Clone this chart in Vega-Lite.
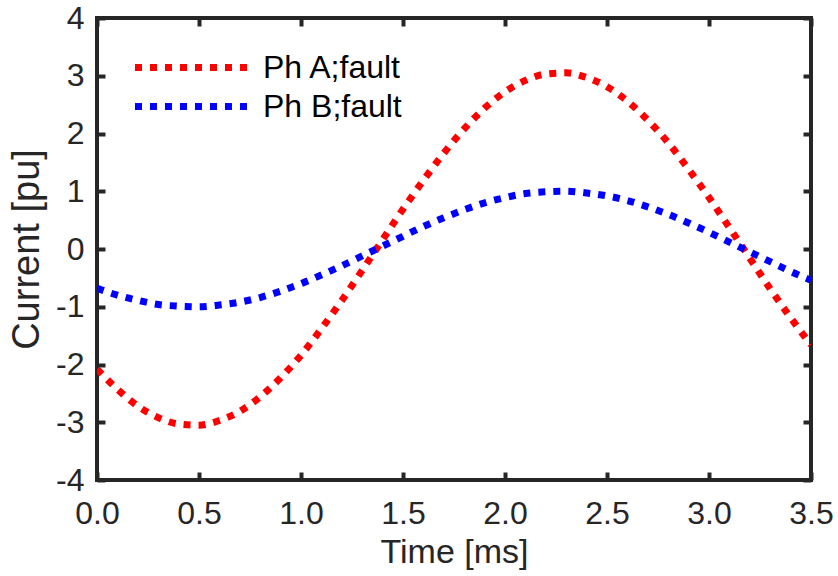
{
  "$schema": "https://vega.github.io/schema/vega-lite/v6.json",
  "width": 714,
  "height": 462,
  "autosize": {"type": "none"},
  "padding": {"left": 97, "top": 18, "right": 27, "bottom": 96},
  "background": "white",
  "config": {
    "font": "Liberation Sans",
    "view": {"stroke": "#262626", "strokeWidth": 4},
    "axis": {"grid": false, "domain": false, "tickColor": "#262626", "tickWidth": 4, "tickSize": -8, "labelColor": "#262626", "titleColor": "#262626", "labelFontSize": 32, "titleFontSize": 34, "titleFontWeight": "normal", "labelFont": "Liberation Sans", "titleFont": "Liberation Sans"}
  },
  "data": {"values": [
    {"t":0.0,"i":-2.08,"s":"Ph A;fault"},{"t":0.1,"i":-2.43,"s":"Ph A;fault"},{"t":0.2,"i":-2.72,"s":"Ph A;fault"},{"t":0.3,"i":-2.92,"s":"Ph A;fault"},{"t":0.4,"i":-3.03,"s":"Ph A;fault"},{"t":0.5,"i":-3.05,"s":"Ph A;fault"},{"t":0.6,"i":-2.97,"s":"Ph A;fault"},{"t":0.7,"i":-2.81,"s":"Ph A;fault"},{"t":0.8,"i":-2.56,"s":"Ph A;fault"},{"t":0.9,"i":-2.23,"s":"Ph A;fault"},{"t":1.0,"i":-1.84,"s":"Ph A;fault"},{"t":1.1,"i":-1.38,"s":"Ph A;fault"},{"t":1.2,"i":-0.89,"s":"Ph A;fault"},{"t":1.3,"i":-0.37,"s":"Ph A;fault"},{"t":1.4,"i":0.16,"s":"Ph A;fault"},{"t":1.5,"i":0.69,"s":"Ph A;fault"},{"t":1.6,"i":1.19,"s":"Ph A;fault"},{"t":1.7,"i":1.66,"s":"Ph A;fault"},{"t":1.8,"i":2.08,"s":"Ph A;fault"},{"t":1.9,"i":2.44,"s":"Ph A;fault"},{"t":2.0,"i":2.72,"s":"Ph A;fault"},{"t":2.1,"i":2.92,"s":"Ph A;fault"},{"t":2.2,"i":3.03,"s":"Ph A;fault"},{"t":2.3,"i":3.05,"s":"Ph A;fault"},{"t":2.4,"i":2.97,"s":"Ph A;fault"},{"t":2.5,"i":2.81,"s":"Ph A;fault"},{"t":2.6,"i":2.56,"s":"Ph A;fault"},{"t":2.7,"i":2.23,"s":"Ph A;fault"},{"t":2.8,"i":1.84,"s":"Ph A;fault"},{"t":2.9,"i":1.38,"s":"Ph A;fault"},{"t":3.0,"i":0.89,"s":"Ph A;fault"},{"t":3.1,"i":0.37,"s":"Ph A;fault"},{"t":3.2,"i":-0.16,"s":"Ph A;fault"},{"t":3.3,"i":-0.69,"s":"Ph A;fault"},{"t":3.4,"i":-1.19,"s":"Ph A;fault"},{"t":3.5,"i":-1.66,"s":"Ph A;fault"},
    {"t":0.0,"i":-0.68,"s":"Ph B;fault"},{"t":0.1,"i":-0.80,"s":"Ph B;fault"},{"t":0.2,"i":-0.89,"s":"Ph B;fault"},{"t":0.3,"i":-0.96,"s":"Ph B;fault"},{"t":0.4,"i":-0.99,"s":"Ph B;fault"},{"t":0.5,"i":-1.00,"s":"Ph B;fault"},{"t":0.6,"i":-0.97,"s":"Ph B;fault"},{"t":0.7,"i":-0.92,"s":"Ph B;fault"},{"t":0.8,"i":-0.84,"s":"Ph B;fault"},{"t":0.9,"i":-0.73,"s":"Ph B;fault"},{"t":1.0,"i":-0.60,"s":"Ph B;fault"},{"t":1.1,"i":-0.45,"s":"Ph B;fault"},{"t":1.2,"i":-0.29,"s":"Ph B;fault"},{"t":1.3,"i":-0.12,"s":"Ph B;fault"},{"t":1.4,"i":0.05,"s":"Ph B;fault"},{"t":1.5,"i":0.22,"s":"Ph B;fault"},{"t":1.6,"i":0.39,"s":"Ph B;fault"},{"t":1.7,"i":0.54,"s":"Ph B;fault"},{"t":1.8,"i":0.68,"s":"Ph B;fault"},{"t":1.9,"i":0.80,"s":"Ph B;fault"},{"t":2.0,"i":0.89,"s":"Ph B;fault"},{"t":2.1,"i":0.96,"s":"Ph B;fault"},{"t":2.2,"i":0.99,"s":"Ph B;fault"},{"t":2.3,"i":1.00,"s":"Ph B;fault"},{"t":2.4,"i":0.97,"s":"Ph B;fault"},{"t":2.5,"i":0.92,"s":"Ph B;fault"},{"t":2.6,"i":0.84,"s":"Ph B;fault"},{"t":2.7,"i":0.73,"s":"Ph B;fault"},{"t":2.8,"i":0.60,"s":"Ph B;fault"},{"t":2.9,"i":0.45,"s":"Ph B;fault"},{"t":3.0,"i":0.29,"s":"Ph B;fault"},{"t":3.1,"i":0.12,"s":"Ph B;fault"},{"t":3.2,"i":-0.05,"s":"Ph B;fault"},{"t":3.3,"i":-0.22,"s":"Ph B;fault"},{"t":3.4,"i":-0.39,"s":"Ph B;fault"},{"t":3.5,"i":-0.54,"s":"Ph B;fault"}
  ]},
  "layer": [
    {
      "mark": {"type": "line", "strokeWidth": 7, "strokeDash": [7, 8], "strokeCap": "butt", "interpolate": "monotone", "clip": true},
      "encoding": {
        "x": {"field": "t", "type": "quantitative", "scale": {"domain": [0, 3.5], "nice": false, "zero": false},
              "axis": {"orient": "bottom", "title": "Time [ms]", "values": [0, 0.5, 1, 1.5, 2, 2.5, 3, 3.5], "labelExpr": "format(datum.value, '.1f')", "labelPadding": 26, "titlePadding": 6, "labelFlush": false}},
        "y": {"field": "i", "type": "quantitative", "scale": {"domain": [-4, 4], "nice": false, "zero": false},
              "axis": {"orient": "left", "title": "Current [pu]", "titleFontSize": 38, "values": [-4, -3, -2, -1, 0, 1, 2, 3, 4], "labelExpr": "'' + datum.value", "labelPadding": 21, "titlePadding": 9, "labelFlush": false}},
        "color": {"field": "s", "type": "nominal",
                  "scale": {"domain": ["Ph A;fault", "Ph B;fault"], "range": ["#ff0000", "#0000ff"]},
                  "legend": {"orient": "none", "legendX": 78, "legendY": 31, "title": null, "symbolType": "M-4,0H4", "symbolSize": 856, "symbolStrokeWidth": 7, "symbolDash": [7, 8], "symbolFillColor": "transparent", "labelFontSize": 32, "labelColor": "#000000", "labelFont": "Liberation Sans", "labelOffset": 51, "rowPadding": 4, "padding": 0}}
      }
    },
    {
      "mark": {"type": "line", "strokeOpacity": 0},
      "encoding": {
        "x": {"field": "t", "type": "quantitative", "axis": {"orient": "top", "title": null, "labels": false, "values": [0, 0.5, 1, 1.5, 2, 2.5, 3, 3.5]}},
        "y": {"field": "i", "type": "quantitative", "axis": {"orient": "right", "title": null, "labels": false, "values": [-4, -3, -2, -1, 0, 1, 2, 3, 4]}},
        "detail": {"field": "s"}
      }
    }
  ],
  "resolve": {"axis": {"x": "independent", "y": "independent"}}
}
